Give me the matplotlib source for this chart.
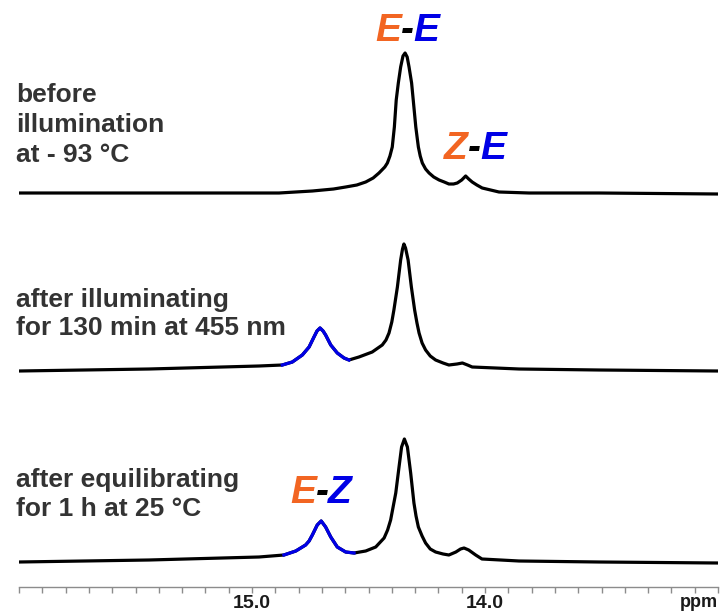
"""Stacked 1H NMR spectra (E/Z isomers) before and after illumination."""

import matplotlib

matplotlib.use("Agg")
import matplotlib.pyplot as plt
import numpy as np

# ---------------------------------------------------------------------------
# Data (ppm, intensity above local baseline)
# ---------------------------------------------------------------------------

top_ppm = [16.0, 15.657, 15.227, 14.884, 14.741, 14.650, 14.598, 14.550, 14.512,
           14.480, 14.455, 14.430, 14.419, 14.408, 14.398, 14.389, 14.381, 14.372,
           14.362, 14.352, 14.343, 14.334, 14.326, 14.315, 14.308, 14.297, 14.291,
           14.286, 14.278, 14.269, 14.255, 14.240, 14.220, 14.197, 14.175, 14.155,
           14.135, 14.119, 14.100, 14.083, 14.070, 14.055, 14.035, 14.012, 13.940,
           13.811, 13.511, 13.0]
top_int = [1, 1, 1, 1, 3, 5, 7, 9, 12,
           16, 21, 27, 31, 38, 47, 67, 94, 111,
           127, 138, 141, 137, 127, 111, 94, 67, 56,
           47, 38, 31, 25, 21, 17, 14, 12, 10,
           10, 11, 14, 18, 15, 12, 9, 6, 2,
           1, 1, 0]

mid_ppm = [16.0, 15.442, 14.970, 14.870, 14.827, 14.784, 14.755, 14.734, 14.721,
           14.708, 14.695, 14.684, 14.662, 14.634, 14.605, 14.584, 14.541, 14.484,
           14.441, 14.425, 14.412, 14.400, 14.391, 14.376, 14.362, 14.354, 14.348,
           14.341, 14.330, 14.316, 14.302, 14.292, 14.283, 14.270, 14.255, 14.235,
           14.212, 14.180, 14.155, 14.120, 14.097, 14.075, 14.055, 13.854, 13.511,
           13.0]
mid_int = [-3, -1, 2, 3, 6, 13, 21, 31, 37,
           40, 37, 33, 23, 15, 10, 8, 11, 16,
           23, 28, 35, 46, 58, 81, 108, 119, 124,
           120, 108, 81, 58, 45, 35, 25, 18, 12,
           8, 5, 3, 4, 5, 3, 1, -1, -2,
           -3]

bot_ppm = [16.0, 15.442, 14.970, 14.863, 14.812, 14.770, 14.755, 14.741, 14.720,
           14.703, 14.684, 14.662, 14.634, 14.598, 14.562, 14.512, 14.469, 14.433,
           14.418, 14.405, 14.383, 14.369, 14.358, 14.346, 14.333, 14.319, 14.305,
           14.296, 14.286, 14.270, 14.255, 14.235, 14.212, 14.180, 14.155, 14.125,
           14.105, 14.090, 14.070, 14.040, 14.013, 13.854, 13.511, 13.0]
bot_int = [-2, 0, 3, 5, 9, 15, 19, 25, 35,
           39, 33, 23, 13, 8, 7, 9, 13, 22,
           30, 40, 67, 93, 113, 121, 113, 87, 57,
           44, 33, 24, 17, 11, 8, 6, 5, 8,
           11, 12, 10, 5, 1, -1, -2, -3]

# ppm window of the E-Z signal (drawn in blue)
ez_range_mid = (14.584, 14.870)
ez_range_bot = (14.562, 14.863)

trace_labels = [
    ["before", "illumination", "at - 93 °C"],
    ["after illuminating", "for 130 min at 455 nm"],
    ["after equilibrating", "for 1 h at 25 °C"],
]

tick_ppm = [15.0, 14.0]

ORANGE = "#f26522"
BLUE = "#0000e6"
TEXT = "#333333"

W, H = 727, 613


def px(x, y):
    """figure pixel (from top-left) -> figure fraction"""
    return x / W, 1 - y / H


def draw_trace(ax, ppm, inten, offset, blue_range=None):
    ppm = np.asarray(ppm)
    y = np.asarray(inten) + offset
    ax.plot(ppm, y, color="black", lw=2.3, solid_joinstyle="round")
    if blue_range is not None:
        m = (ppm >= blue_range[0]) & (ppm <= blue_range[1])
        ax.plot(ppm[m], y[m], color=BLUE, lw=2.3, solid_joinstyle="round")


def isomer_label(fig, x_mid, y_base, first, second, size=28):
    kw = dict(fontsize=size, fontweight="bold", fontstyle="italic",
              family="Liberation Sans", va="baseline")
    fig.text(*px(x_mid - 6, y_base), first, color=ORANGE, ha="right", **kw)
    fig.text(*px(x_mid, y_base), "-", color="black", ha="center", **kw)
    fig.text(*px(x_mid + 6, y_base), second, color=BLUE, ha="left", **kw)


def main():
    fig = plt.figure(figsize=(W / 100, H / 100), dpi=100)
    axis_y = 587.3
    ax = fig.add_axes([19 / W, (H - axis_y) / H, (718 - 19) / W, axis_y / H])

    # baselines in axis units (pixels above the ppm axis)
    draw_trace(ax, top_ppm, top_int, axis_y - 194)
    draw_trace(ax, mid_ppm, mid_int, axis_y - 368, ez_range_mid)
    draw_trace(ax, bot_ppm, bot_int, axis_y - 560, ez_range_bot)

    ax.set_xlim(16.0, 13.0)
    ax.set_ylim(0, axis_y)
    for side in ("top", "left", "right"):
        ax.spines[side].set_visible(False)
    ax.spines["bottom"].set_color("#8c8c8c")
    ax.spines["bottom"].set_linewidth(1.0)
    ax.set_yticks([])
    ax.set_xticks(np.round(np.arange(13.0, 16.01, 0.1), 1))
    ax.set_xticklabels([])
    ax.tick_params(axis="x", direction="out", length=4, width=1.0, color="#8c8c8c")

    for t in tick_ppm:
        xfig = ax.transData.transform((t, 0))[0]
        fig.text(xfig / W, 1 - 608 / H, f"{t:.1f}", ha="center", va="baseline",
                 fontsize=14, fontweight="bold", family="Liberation Sans", color="#1a1a1a")
    fig.text(*px(718, 607), "ppm", ha="right", va="baseline", fontsize=13,
             fontweight="bold", family="Liberation Sans", color="#1a1a1a")

    # left-hand condition labels
    baselines = [[102, 132, 162], [307, 335], [487, 516]]
    for lines, ys in zip(trace_labels, baselines):
        for line, y in zip(lines, ys):
            fig.text(*px(16, y), line, ha="left", va="baseline", fontsize=19,
                     fontweight="bold", family="Liberation Sans", color=TEXT)

    # isomer labels
    isomer_label(fig, 407, 41, "E", "E")
    isomer_label(fig, 474, 159, "Z", "E")
    isomer_label(fig, 322, 503, "E", "Z")

    fig.savefig("out.png", dpi=100)
    plt.close(fig)


if __name__ == "__main__":
    main()
